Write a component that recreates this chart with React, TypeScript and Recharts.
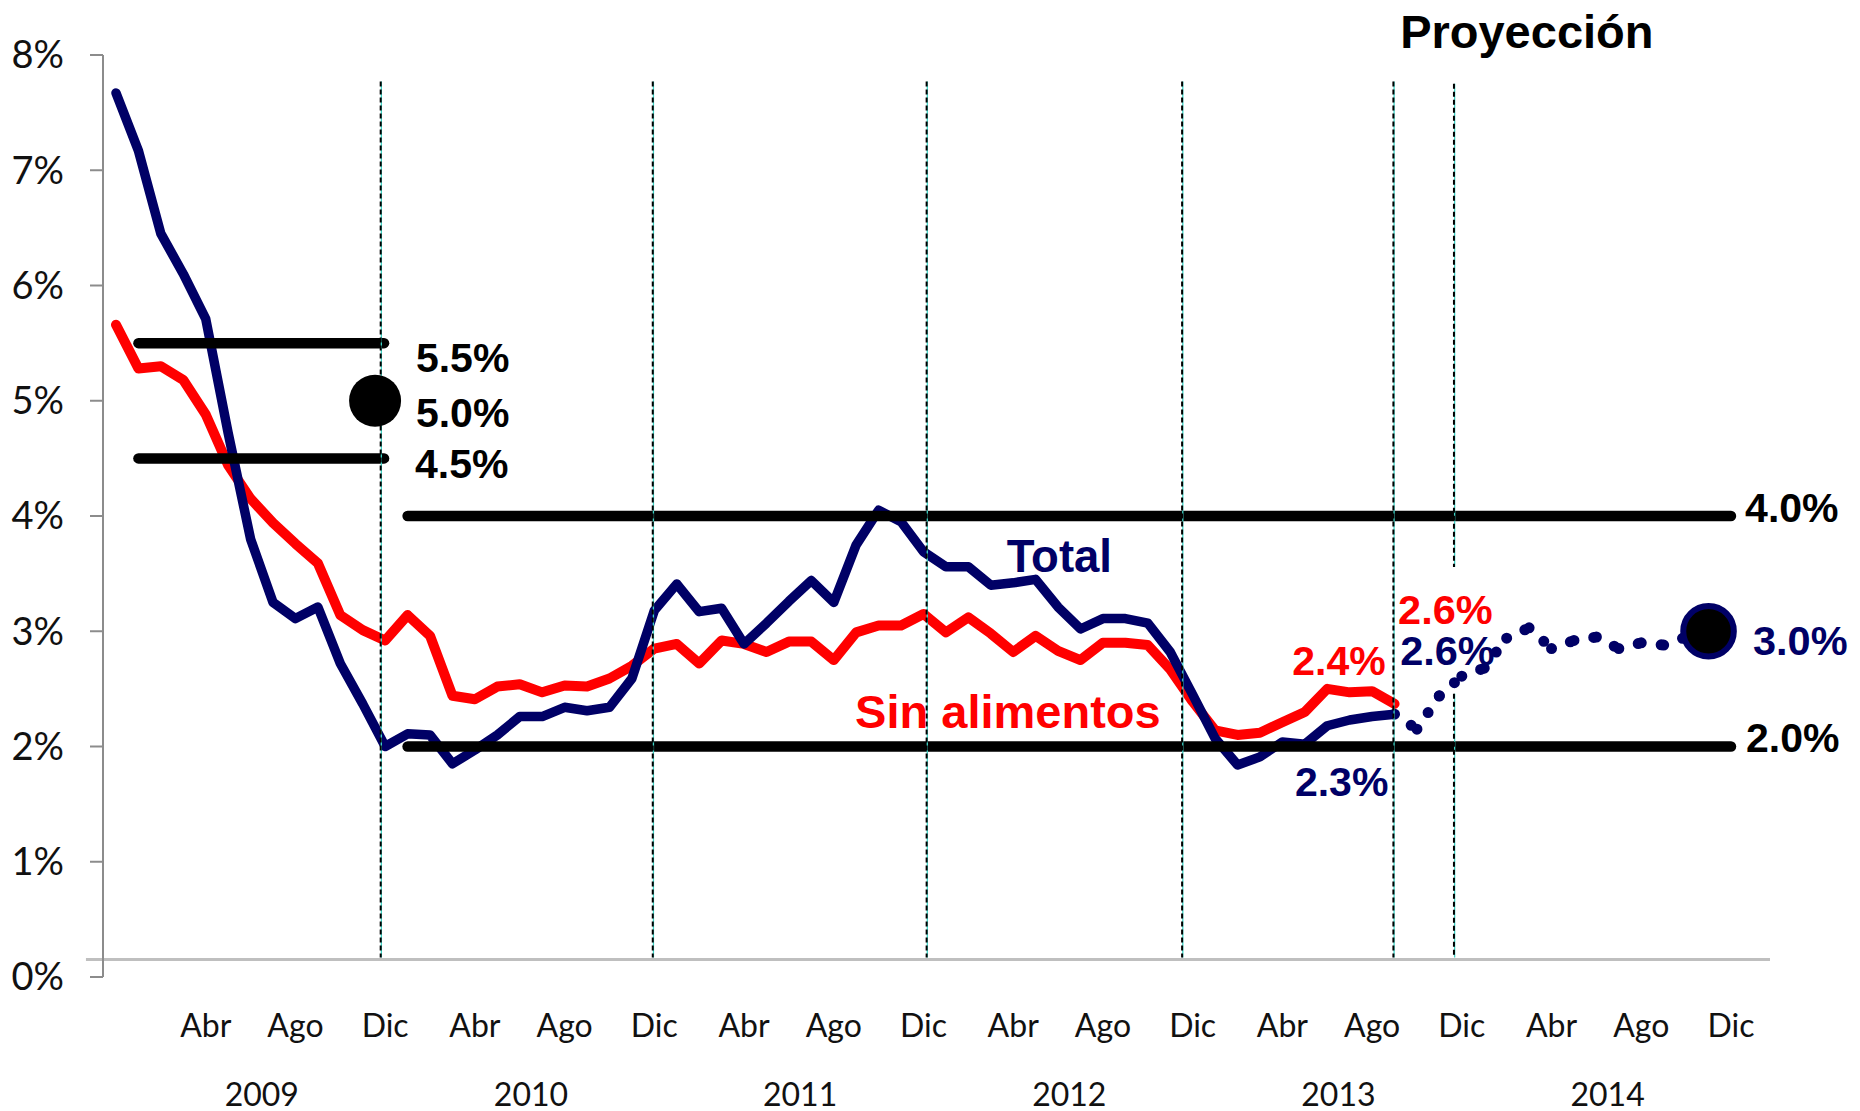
import React from 'react';
import { LineChart, Line, XAxis, YAxis, ReferenceLine, ReferenceDot } from 'recharts';

const NAVY = '#000066';
const RED = '#ff0000';
const CYAN = '#3fd3c6';
const BOLD_FONT = '"Liberation Sans", Arial, sans-serif';
const AXIS_FONT = 'Lato, "Open Sans", sans-serif';

// Month index: 0 = Dic 2008, 12 = Dic 2009, ... 72 = Dic 2014
const totalValues = [
  7.67, 7.17, 6.45, 6.10, 5.71, 4.72, 3.80, 3.25, 3.11, 3.21, 2.72, 2.37, 2.00,
  2.11, 2.10, 1.85, 1.97, 2.10, 2.26, 2.26, 2.34, 2.31, 2.34, 2.59, 3.18,
  3.41, 3.17, 3.20, 2.89, 3.07, 3.26, 3.44, 3.25, 3.75, 4.05, 3.95, 3.69,
  3.56, 3.56, 3.40, 3.42, 3.45, 3.21, 3.02, 3.11, 3.11, 3.07, 2.82, 2.45,
  2.07, 1.84, 1.91, 2.04, 2.02, 2.18, 2.23, 2.26, 2.28,
];
const sinAlimentosValues = [
  5.66, 5.28, 5.30, 5.18, 4.88, 4.44, 4.15, 3.94, 3.76, 3.59, 3.14, 3.01, 2.92,
  3.14, 2.96, 2.44, 2.41, 2.52, 2.54, 2.47, 2.53, 2.52, 2.59, 2.70, 2.85,
  2.89, 2.72, 2.92, 2.89, 2.82, 2.91, 2.91, 2.75, 2.99, 3.05, 3.05, 3.15,
  2.99, 3.12, 2.98, 2.82, 2.96, 2.83, 2.75, 2.90, 2.90, 2.88, 2.67, 2.39,
  2.14, 2.10, 2.12, 2.21, 2.30, 2.50, 2.47, 2.48, 2.37,
];
// Projection (Total), month index 57 (Sep 2013) .. 71 (Nov 2014)
const projectionStart = 57;
const projectionValues = [2.28, 2.15, 2.44, 2.61, 2.68, 2.94, 3.03, 2.85, 2.92, 2.95, 2.85, 2.90, 2.88, 2.95, 3.0];

const monthTicks = [4, 8, 12, 16, 20, 24, 28, 32, 36, 40, 44, 48, 52, 56, 60, 64, 68, 72];
const monthTickLabels = [
  'Abr', 'Ago', 'Dic', 'Abr', 'Ago', 'Dic', 'Abr', 'Ago', 'Dic',
  'Abr', 'Ago', 'Dic', 'Abr', 'Ago', 'Dic', 'Abr', 'Ago', 'Dic',
];
const yearTicks = [6.5, 18.5, 30.5, 42.5, 54.5, 66.5];
const yearLabels = ['2009', '2010', '2011', '2012', '2013', '2014'];
const yTicks = [0, 1, 2, 3, 4, 5, 6, 7, 8];

// Target ranges
const oldTarget = { center: 5.0, low: 4.5, high: 5.5, from: 1.0, to: 11.95, dotX: 11.55 };
const newTarget = { low: 2.0, high: 4.0, from: 13.0, to: 72.0 };
const projTarget = { x: 71, y: 3.0 };

// layout helpers (positions, not data)
const dividerPositions = [11.8, 23.93, 36.14, 47.53, 56.95];
const lastDivider = { x: 59.65, gapTop: 3.557, gapBottom: 2.458 };
const dividerTop = 7.77;
const dividerBottom = 0.17;
const baseLineY = 0.152;

const annotations = [
  { text: '5.5%', x: 13.37, y: 5.247, color: '#000', size: 41 },
  { text: '5.0%', x: 13.37, y: 4.77, color: '#000', size: 41 },
  { text: '4.5%', x: 13.33, y: 4.327, color: '#000', size: 41 },
  { text: '4.0%', x: 72.63, y: 3.948, color: '#000', size: 41 },
  { text: '2.0%', x: 72.67, y: 1.951, color: '#000', size: 41 },
  { text: '3.0%', x: 72.98, y: 2.79, color: NAVY, size: 41.5 },
  { text: '2.6%', x: 57.16, y: 3.06, color: RED, size: 41.5 },
  { text: '2.6%', x: 57.25, y: 2.704, color: NAVY, size: 41.5 },
  { text: '2.4%', x: 52.44, y: 2.617, color: RED, size: 41 },
  { text: '2.3%', x: 52.56, y: 1.569, color: NAVY, size: 41 },
  { text: 'Total', x: 39.71, y: 3.516, color: NAVY, size: 45.5 },
  { text: 'Sin alimentos', x: 32.95, y: 2.16, color: RED, size: 47 },
  { text: 'Proyección', x: 57.25, y: 8.06, color: '#000', size: 47 },
];

const segKeys: string[] = [];
const data: any[] = [];
for (let i = 0; i <= 72; i++) {
  const row: any = { i };
  row.total = i < totalValues.length ? totalValues[i] : null;
  row.sin = i < sinAlimentosValues.length ? sinAlimentosValues[i] : null;
  data.push(row);
}
for (let k = 0; k < projectionValues.length - 1; k++) {
  const key = 'p' + (projectionStart + k);
  segKeys.push(key);
  data[projectionStart + k][key] = projectionValues[k];
  data[projectionStart + k + 1][key] = projectionValues[k + 1];
}

const xTickText = new Map<number, string>();
monthTicks.forEach((t, n) => xTickText.set(t, monthTickLabels[n]));
yearTicks.forEach((t, n) => xTickText.set(t, yearLabels[n]));
const allXTicks = [...monthTicks, ...yearTicks].sort((a, b) => a - b);

const renderXTick = (props: any) => {
  const { x, y, payload } = props;
  const v = payload.value;
  const isYear = yearTicks.includes(v);
  return (
    <text
      x={x}
      y={y + (isYear ? 129 : 60)}
      textAnchor="middle"
      fontFamily={AXIS_FONT}
      fontSize={32}
      fill="#111"
    >
      {xTickText.get(v)}
    </text>
  );
};

const dashed = (x: number, y1: number, y2: number, key: string) => [
  <ReferenceLine
    key={key + 'c'}
    segment={[{ x: x + 0.03, y: y1 }, { x: x + 0.03, y: y2 }]}
    stroke={CYAN}
    strokeWidth={1.3}
    ifOverflow="visible"
  />,
  <ReferenceLine
    key={key + 'd'}
    segment={[{ x, y: y1 }, { x, y: y2 }]}
    stroke="#000"
    strokeWidth={2}
    strokeDasharray="5 3"
    ifOverflow="visible"
  />,
];

const hLine = (y: number, x1: number, x2: number, key: string) => (
  <ReferenceLine
    key={key}
    segment={[{ x: x1, y }, { x: x2, y }]}
    stroke="#000"
    strokeWidth={10.5}
    strokeLinecap="round"
    ifOverflow="visible"
  />
);

export default function App() {
  return (
    <div style={{ position: 'absolute', left: 0, top: 0, width: 1860, height: 1111, background: '#fff' }}>
      <LineChart width={1860} height={1111} data={data} margin={{ top: 55, right: 90, bottom: 0, left: 0 }}>
        <XAxis
          type="number"
          dataKey="i"
          domain={[-0.58, 73.74]}
          allowDataOverflow
          ticks={allXTicks}
          interval={0}
          tick={renderXTick}
          tickLine={false}
          axisLine={false}
          tickSize={0}
          tickMargin={0}
          height={134}
        />
        <YAxis
          type="number"
          domain={[0, 8]}
          ticks={yTicks}
          interval={0}
          tickFormatter={(v: number) => `${v}%`}
          width={103}
          tickSize={13}
          tickMargin={26}
          axisLine={{ stroke: '#8c8c8c', strokeWidth: 2 }}
          tickLine={{ stroke: '#8c8c8c', strokeWidth: 2 }}
          tick={{ fill: '#111', fontSize: 38, fontFamily: AXIS_FONT }}
        />
        <ReferenceLine
          segment={[{ x: -1.34, y: baseLineY }, { x: 73.74, y: baseLineY }]}
          stroke="#bfbfbf"
          strokeWidth={3}
          ifOverflow="visible"
        />
        <Line
          dataKey="sin"
          stroke={RED}
          strokeWidth={10}
          dot={false}
          activeDot={false}
          strokeLinejoin="round"
          strokeLinecap="round"
          isAnimationActive={false}
        />
        <Line
          dataKey="total"
          stroke={NAVY}
          strokeWidth={9.5}
          dot={false}
          activeDot={false}
          strokeLinejoin="round"
          strokeLinecap="round"
          isAnimationActive={false}
        />
        {segKeys.map((k) => (
          <Line
            key={k}
            dataKey={k}
            stroke={NAVY}
            strokeWidth={11}
            strokeDasharray="0 20"
            strokeLinecap="round"
            dot={false}
            activeDot={false}
            isAnimationActive={false}
          />
        ))}
        {hLine(oldTarget.high, oldTarget.from, oldTarget.to, 't1')}
        {hLine(oldTarget.low, oldTarget.from, oldTarget.to, 't2')}
        {hLine(newTarget.high, newTarget.from, newTarget.to, 't3')}
        {hLine(newTarget.low, newTarget.from, newTarget.to, 't4')}
        <ReferenceDot x={oldTarget.dotX} y={oldTarget.center} r={26} fill="#000" stroke="none" ifOverflow="visible" />
        {dividerPositions.map((x, n) => dashed(x, dividerTop, dividerBottom, 'dv' + n))}
        {dashed(lastDivider.x, dividerTop - 0.02, lastDivider.gapTop, 'lastA')}
        {dashed(lastDivider.x, lastDivider.gapBottom, dividerBottom, 'lastB')}
        <ReferenceDot x={projTarget.x} y={projTarget.y} r={25.3} fill="#000" stroke={NAVY} strokeWidth={6} ifOverflow="visible" />
        {annotations.map((a, n) => (
          <ReferenceDot
            key={'a' + n}
            x={a.x}
            y={a.y}
            r={1}
            ifOverflow="visible"
            shape={(p: any) => (
              <text
                x={p.cx}
                y={p.cy}
                fill={a.color}
                fontSize={a.size}
                fontWeight="bold"
                fontFamily={BOLD_FONT}
              >
                {a.text}
              </text>
            )}
          />
        ))}
      </LineChart>
    </div>
  );
}
